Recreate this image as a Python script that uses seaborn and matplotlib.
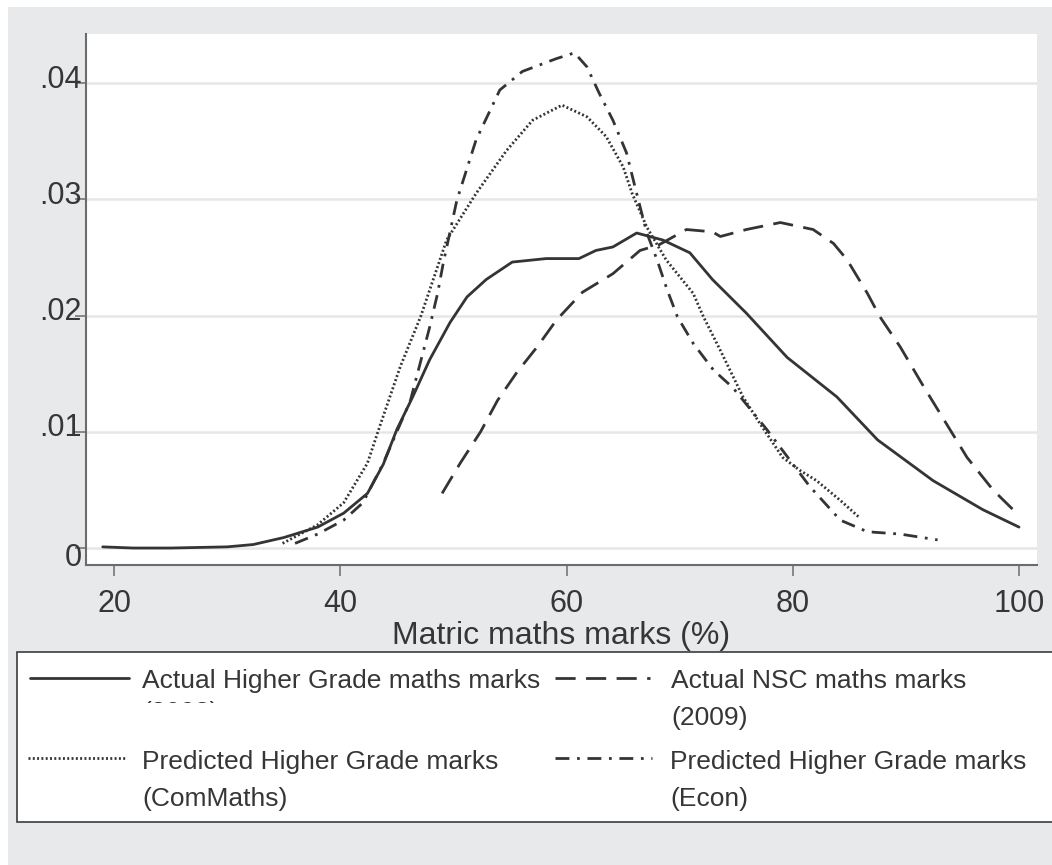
import matplotlib
matplotlib.use("Agg")
import seaborn as sns
import matplotlib.pyplot as plt
from matplotlib.patches import Rectangle
from matplotlib.lines import Line2D
from matplotlib.transforms import Bbox, ScaledTranslation

# Kernel density curves
hg2008_x = [19.0, 21.7, 25, 30, 32.3, 35, 38, 40.3, 42.4, 43.8, 45.0, 46.4, 47.9, 49.7, 51.2, 52.9,
            55.2, 58.2, 61.1, 62.6, 64.1, 66.2, 68.5, 70.9, 72.9, 75.9, 79.5, 83.9, 87.5, 92.4,
            96.8, 100]
hg2008_y = [.0001, .0000, .0000, .0001, .0003, .0009, .0018, .0030, .0047, .0072, .0102, .0130,
            .0162, .0194, .0216, .0231, .0246, .0249, .0249, .0256, .0259, .0271, .0265, .0254,
            .0231, .0202, .0164, .0130, .0093, .0058, .0033, .0018]

nsc2009_x = [49.0, 50.6, 52.4, 53.9, 55.6, 57.4, 59.1, 61.4, 64.1, 66.5, 68.2, 70.6, 72.9, 73.6,
             75.9, 78.9, 81.8, 83.6, 84.8, 86.6, 87.7, 89.5, 91.5, 95.4, 97.7, 100]
nsc2009_y = [.0047, .0073, .0100, .0127, .0151, .0173, .0196, .0220, .0236, .0256, .0261, .0274,
             .0272, .0268, .0274, .0280, .0274, .0262, .0248, .0219, .0199, .0173, .0140, .0078,
             .0050, .0028]

commaths_x = [34.9, 38, 40.3, 42.4, 43.5, 45.3, 47.1, 49.4, 52.0, 54.7, 57.0, 59.6, 61.8, 63.5,
              65.0, 65.8, 67.1, 68.8, 71.2, 72.1, 73.6, 75.6, 77.1, 79.1, 80.6, 82.1, 84.2, 85.8]
commaths_y = [.0004, .0020, .0039, .0073, .0105, .0156, .0199, .0265, .0305, .0342, .0368, .0381,
              .0371, .0354, .0328, .0305, .0276, .0248, .0219, .0199, .0170, .0130, .0107, .0078,
              .0067, .0058, .0041, .0027]

econ_x = [36, 38, 40.3, 42.0, 43.8, 46.2, 47.9, 48.6, 49.1, 50.3, 52.0, 54.1, 56.1, 59.1, 60.7,
          61.8, 62.9, 64.1, 65.3, 66.2, 67.1, 68.0, 68.9, 69.8, 71.2, 73.0, 74.7, 77.7, 81.5,
          84.2, 86.6, 89.5, 92.8]
econ_y = [.0004, .0012, .0024, .0039, .0073, .0127, .0190, .0219, .0245, .0299, .0351, .0394,
          .0410, .0421, .0426, .0414, .0391, .0368, .0340, .0305, .0271, .0248, .0222, .0199,
          .0176, .0153, .0138, .0102, .0053, .0024, .0014, .0012, .0007]

x_ticks = [20, 40, 60, 80, 100]
y_ticks = [0, .01, .02, .03, .04]
y_tick_labels = ["0", ".01", ".02", ".03", ".04"]
x_label = "Matric maths marks (%)"

# Styles
LINE_C = "#343434"
TXT_C = "#363636"
SPINE_C = "#6c6c6c"
BG = "#e8e9eb"
STYLES = {
    "solid": "-",
    "dash": (0, (14.5, 7.5)),
    "dot": (0, (1.4, 1.7)),
    "dashdot": (0, (10, 5.5, 2, 5.5)),
}

sns.set_style("ticks")
plt.rcParams["font.family"] = ["Liberation Sans", "DejaVu Sans"]
plt.rcParams["lines.scale_dashes"] = False

W, H = 1052, 865
fig = plt.figure(figsize=(W / 100, H / 100), dpi=100, facecolor="white")

# grey graph region (Stata-like)
fig.add_artist(Rectangle((8 / W, 0), 1, (H - 7) / H, transform=fig.transFigure,
                         facecolor=BG, edgecolor="none", zorder=-5))

ax = fig.add_axes([86 / W, 1 - 565 / H, (1037 - 86) / W, (565 - 34) / H])
ax.set_facecolor("white")

series = [
    (hg2008_x, hg2008_y, "solid"),
    (nsc2009_x, nsc2009_y, "dash"),
    (commaths_x, commaths_y, "dot"),
    (econ_x, econ_y, "dashdot"),
]
for xs, ys, st in series:
    sns.lineplot(x=xs, y=ys, ax=ax, color=LINE_C, linewidth=2.0,
                 linestyle=STYLES[st], sort=False)

ax.set_xlim(17.52, 101.59)
ax.set_ylim(-0.00146, 0.04422)
ax.set_xticks(x_ticks)
ax.set_xticklabels([str(t) for t in x_ticks])
ax.set_yticks(y_ticks)
ax.set_yticklabels(y_tick_labels)
ax.grid(axis="y", color="#e6e6e6", linewidth=1.8)
ax.set_axisbelow(True)

for side in ["top", "right"]:
    ax.spines[side].set_visible(False)
for side in ["left", "bottom"]:
    ax.spines[side].set_color(SPINE_C)
    ax.spines[side].set_linewidth(1.5)

ax.tick_params(axis="both", direction="out", length=8, width=1.1, color=SPINE_C,
               labelsize=22, labelcolor=TXT_C)
ax.tick_params(axis="x", pad=9.5)
ax.tick_params(axis="y", pad=-5)

# Stata places y labels slightly off the tick
for lab in ax.get_yticklabels():
    dy = -5 if lab.get_text() == "0" else 5
    lab.set_transform(lab.get_transform() + ScaledTranslation(0, dy / 72, fig.dpi_scale_trans))

ax.set_xlabel(x_label, fontsize=23, color=TXT_C, labelpad=1)
ax.set_ylabel("")

# Legend box
fig.add_artist(Rectangle((17 / W, 1 - 822 / H), 1.2, (822 - 652) / H,
                         transform=fig.transFigure, facecolor="white",
                         edgecolor="#3c3c3c", linewidth=1.2, zorder=1))

legend_entries = [
    ("Actual Higher Grade maths marks", None, "solid", 30, 129, 678, 142, 688),
    ("Actual NSC maths marks", "(2009)", "dash", 555, 650, 678, 671, 688),
    ("Predicted Higher Grade marks", "(ComMaths)", "dot", 28, 127, 758, 142, 769),
    ("Predicted Higher Grade marks", "(Econ)", "dashdot", 555, 652, 758, 670, 769),
]
for line1, line2, st, hx0, hx1, hy, tx, ty in legend_entries:
    fig.add_artist(Line2D([hx0 / W, hx1 / W], [1 - hy / H] * 2, transform=fig.transFigure,
                          color=LINE_C, linewidth=2.0, linestyle=STYLES[st], zorder=2))
    fig.text(tx / W, 1 - ty / H, line1, fontsize=19, color=TXT_C, va="baseline", zorder=2)
    if line2:
        fig.text(tx / W, 1 - (ty + 37) / H, line2, fontsize=19, color=TXT_C,
                 va="baseline", zorder=2)

# second line of the first key is hidden in the original graph
hidden = fig.text(142 / W, 1 - 720 / H, "(2008)", fontsize=19, color=TXT_C,
                  va="baseline", zorder=2)
hidden.set_clip_box(Bbox.from_extents(0, H - 703, W, H))
hidden.set_clip_on(True)

fig.savefig("out.png", dpi=100)
